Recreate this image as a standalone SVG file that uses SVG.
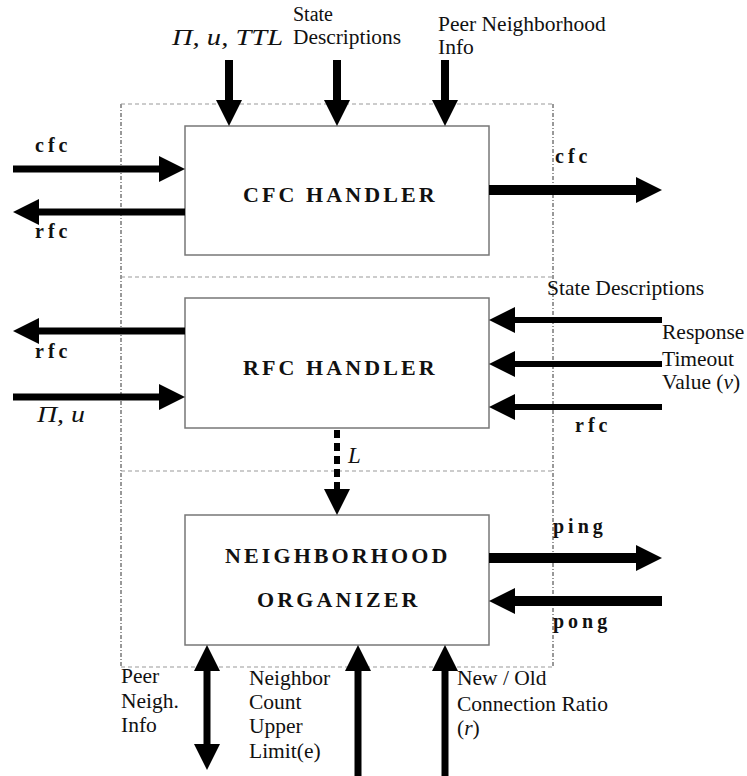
<svg xmlns="http://www.w3.org/2000/svg" width="747" height="776" viewBox="0 0 747 776">
<style>
text{font-family:'Liberation Serif','DejaVu Serif','Noto Serif',serif;fill:#111}
.t{font-size:21.5px}
.s{font-size:20px}
.it{font-style:italic;font-size:23px}
.lbl{font-weight:bold;font-size:20px;letter-spacing:4px}
.title{font-weight:bold;font-size:22px;letter-spacing:3.1px}
.box{fill:#fff;stroke:#777;stroke-width:1.5}
.frame{fill:none;stroke:#333;stroke-width:1;stroke-dasharray:4,2,1,2}
.sep{fill:none;stroke:#999;stroke-width:1;stroke-dasharray:4,3}
.a{fill:none;stroke:#000;marker-end:url(#head)}
.w6{stroke-width:6}
.w7{stroke-width:7}
.w9{stroke-width:8}
.w10{stroke-width:10}
.dash{stroke-dasharray:8,5}
</style>
<defs>
<marker id="head" markerUnits="userSpaceOnUse" markerWidth="28" markerHeight="28" refX="0" refY="13" orient="auto-start-reverse" viewBox="0 0 28 28">
<path d="M0,0 L26,13 L0,26 z" fill="#000"/>
</marker>
</defs>
<g id="frame">
<line class="frame" x1="121" y1="104" x2="121" y2="667"/>
<line class="frame" x1="553" y1="104" x2="553" y2="667"/>
<line class="sep" x1="121" y1="104" x2="553" y2="104"/>
<line class="sep" x1="121" y1="277" x2="553" y2="277"/>
<line class="sep" x1="121" y1="471" x2="553" y2="471"/>
<line class="sep" x1="121" y1="667" x2="553" y2="667"/>
</g>
<g id="cfc-handler">
<rect class="box" x="185" y="126" width="304" height="129"/>
<text class="title" x="243" y="202">CFC HANDLER</text>
</g>
<g id="rfc-handler">
<rect class="box" x="185" y="298" width="304" height="130"/>
<text class="title" x="243" y="375">RFC HANDLER</text>
</g>
<g id="neighborhood-organizer">
<rect class="box" x="185" y="515" width="304" height="130"/>
<text class="title" x="225" y="563">NEIGHBORHOOD</text>
<text class="title" x="257" y="607">ORGANIZER</text>
</g>
<g id="connectors">
<line class="a w9" x1="229" y1="60" x2="229" y2="100"/>
<line class="a w9" x1="337" y1="60" x2="337" y2="100"/>
<line class="a w9" x1="445" y1="60" x2="445" y2="100"/>
<line class="a w7" x1="13" y1="169" x2="159" y2="169"/>
<line class="a w7" x1="185" y1="212" x2="39" y2="212"/>
<line class="a w10" x1="489" y1="190" x2="636" y2="190"/>
<line class="a w7" x1="185" y1="331" x2="39" y2="331"/>
<line class="a w7" x1="13" y1="397" x2="159" y2="397"/>
<line class="a w6" x1="662" y1="320" x2="515" y2="320"/>
<line class="a w6" x1="662" y1="364" x2="515" y2="364"/>
<line class="a w6" x1="662" y1="407" x2="515" y2="407"/>
<line class="a w6 dash" x1="337" y1="430" x2="337" y2="489"/>
<line class="a w10" x1="489" y1="558" x2="636" y2="558"/>
<line class="a w10" x1="662" y1="601" x2="515" y2="601"/>
<line class="a w7" x1="207" y1="671" x2="207" y2="744" style="marker-start:url(#head)"/>
<line class="a w7" x1="358" y1="776" x2="358" y2="671"/>
<line class="a w7" x1="445" y1="776" x2="445" y2="671"/>
</g>
<g id="labels">
<text class="it" x="172" y="45" textLength="111" lengthAdjust="spacingAndGlyphs">Π, u, TTL</text>
<text class="s" x="293" y="21">State</text>
<text class="s" x="293" y="44" textLength="108" lengthAdjust="spacingAndGlyphs">Descriptions</text>
<text class="t" x="438" y="31">Peer Neighborhood</text>
<text class="t" x="438" y="54">Info</text>
<text class="lbl" x="35" y="152">cfc</text>
<text class="lbl" x="35" y="238">rfc</text>
<text class="lbl" x="555" y="163">cfc</text>
<text class="lbl" x="35" y="358">rfc</text>
<text class="it" x="37" y="422" textLength="48" lengthAdjust="spacingAndGlyphs">Π, u</text>
<text class="it" x="348" y="463">L</text>
<text class="t" x="547" y="295">State Descriptions</text>
<text class="t" x="662" y="339">Response</text>
<text class="t" x="662" y="366">Timeout</text>
<text class="t" x="662" y="389">Value (<tspan font-style="italic">ν</tspan>)</text>
<text class="lbl" x="575" y="432">rfc</text>
<text class="lbl" x="553" y="533">ping</text>
<text class="lbl" x="553" y="628">pong</text>
<text class="t" x="121" y="683">Peer</text>
<text class="t" x="121" y="708">Neigh.</text>
<text class="t" x="121" y="732">Info</text>
<text class="t" x="249" y="685">Neighbor</text>
<text class="t" x="249" y="709">Count</text>
<text class="t" x="249" y="733">Upper</text>
<text class="t" x="249" y="758">Limit(e)</text>
<text class="t" x="457" y="685">New / Old</text>
<text class="t" x="457" y="711">Connection Ratio</text>
<text class="t" x="457" y="735">(<tspan font-style="italic">r</tspan>)</text>
</g>
</svg>
